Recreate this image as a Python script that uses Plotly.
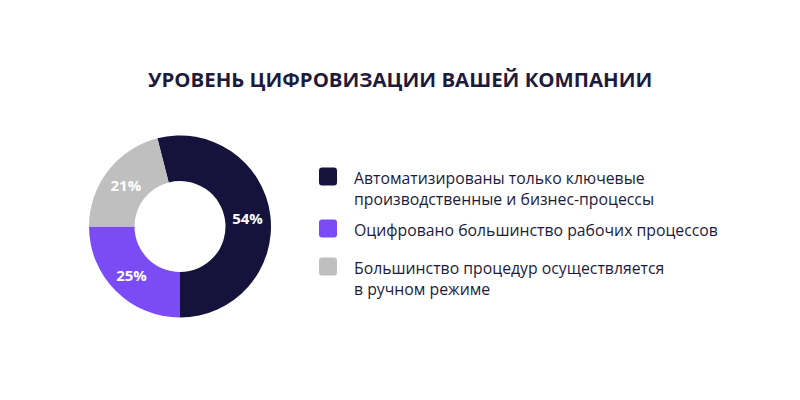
import plotly.graph_objects as go

labels = [
    "Автоматизированы только ключевые<br>производственные и бизнес-процессы",
    "Оцифровано большинство рабочих процессов",
    "Большинство процедур осуществляется<br>в ручном режиме",
]
values = [54, 25, 21]
colors = ["#15133b", "#7b4cf6", "#bfbfbf"]

TITLE = "УРОВЕНЬ ЦИФРОВИЗАЦИИ ВАШЕЙ КОМПАНИИ"
W, H = 800, 400
FONT = "Open Sans"
INK = "#1d1b3d"

fig = go.Figure()

# donut: centre ~ (180, 226), outer radius ~91 px
cx, cy, r = 180, 226.5, 91
fig.add_trace(go.Pie(
    labels=labels,
    values=values,
    marker=dict(colors=colors, line=dict(width=0)),
    hole=0.5,
    sort=False,
    direction="clockwise",
    rotation=180 - values[0] * 3.6,
    texttemplate="%{percent:.0%}",
    textposition="inside",
    insidetextorientation="horizontal",
    textfont=dict(family=FONT, size=15, color="white", weight="bold"),
    domain=dict(x=[(cx - r) / W, (cx + r) / W], y=[1 - (cy + r) / H, 1 - (cy - r) / H]),
    showlegend=False,
    hoverinfo="label+percent",
))

# hand-made legend with rounded swatches
marker_y = [176.5, 228.5, 266.5]
sw = 18
rad = 3
shapes = []
annotations = []
px = lambda v: v / W
py = lambda v: 1 - v / H
for lab, col, my in zip(labels, colors, marker_y):
    x0, x1 = 319, 319 + sw
    y0, y1 = my - sw / 2, my + sw / 2
    path = (
        f"M {px(x0 + rad)} {py(y0)} L {px(x1 - rad)} {py(y0)} "
        f"Q {px(x1)} {py(y0)} {px(x1)} {py(y0 + rad)} "
        f"L {px(x1)} {py(y1 - rad)} Q {px(x1)} {py(y1)} {px(x1 - rad)} {py(y1)} "
        f"L {px(x0 + rad)} {py(y1)} Q {px(x0)} {py(y1)} {px(x0)} {py(y1 - rad)} "
        f"L {px(x0)} {py(y0 + rad)} Q {px(x0)} {py(y0)} {px(x0 + rad)} {py(y0)} Z"
    )
    shapes.append(dict(type="path", path=path, xref="paper", yref="paper",
                       fillcolor=col, line=dict(width=0)))
    annotations.append(dict(
        text=lab, xref="paper", yref="paper",
        x=px(352), y=py(my - 11.5),
        xanchor="left", yanchor="top", align="left", showarrow=False,
        font=dict(family=FONT, size=15.8, color=INK),
    ))

annotations.append(dict(
    text=TITLE, xref="paper", yref="paper", x=0.5, y=py(79),
    xanchor="center", yanchor="middle", showarrow=False,
    font=dict(family=FONT, size=20.4, color=INK, weight="bold"),
))

fig.update_layout(
    width=W, height=H,
    margin=dict(l=0, r=0, t=0, b=0),
    paper_bgcolor="white",
    plot_bgcolor="white",
    shapes=shapes,
    annotations=annotations,
)

fig.write_html(
    "out.html",
    config={"displayModeBar": False},
    post_script="document.body.style.margin='0';",
)
